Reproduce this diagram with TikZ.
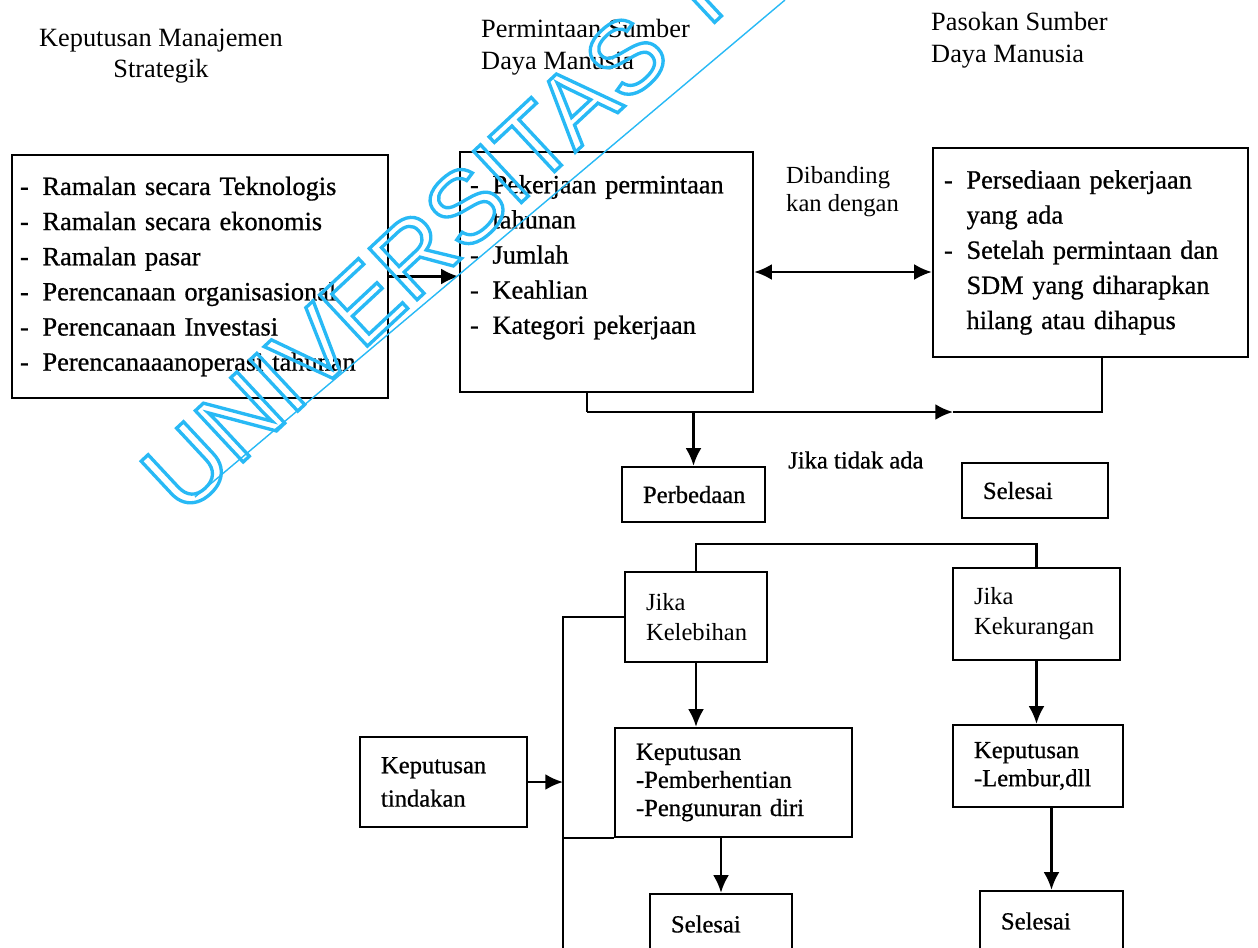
\documentclass[tikz,border=0pt]{standalone}
\usepackage{fontspec}
\setmainfont{Liberation Serif}
\newfontfamily\tebal{Liberation Serif}[FakeBold=0.7]
\newfontfamily\tandaair{Liberation Sans}
\usetikzlibrary{arrows.meta,positioning}
\definecolor{birumuda}{RGB}{40,185,245}
\newcommand{\butir}[1]{\makebox[0.45cm][l]{-}#1}
\newcommand{\sambung}[1]{\hspace*{0.45cm}#1}
\newcommand{\garis}[1]{\special{pdf:literal direct 1 Tr 1.9 w}#1\special{pdf:literal direct 0 Tr}}

\begin{document}
\begin{tikzpicture}[x=0.02cm,y=-0.02cm,>={Latex[length=10pt,width=9pt]},line width=1.4pt,
    judul/.style={font=\fontsize{15}{18}\selectfont,inner sep=0pt},
    kotak/.style={draw,rectangle,align=left,inner ysep=0pt},
    daftar/.style={kotak,font=\tebal\fontsize{15}{20}\selectfont},
    kecil/.style={kotak,font=\tebal\fontsize{14}{17}\selectfont,inner xsep=0.42cm}]
    \useasboundingbox (0,0) rectangle (1258,947);
    \clip (0,0) rectangle (1258,947);
    % judul kolom
    \node[judul,align=center] (judulkiri) at (161,56) {Keputusan Manajemen\\Strategik};
    \node[judul,align=left,anchor=west] (judultengah) at (480,47) {Permintaan Sumber\\Daya Manusia};
    \node[judul,align=left,anchor=west] (judulkanan) at (930,40) {Pasokan Sumber\\Daya Manusia};
    % kotak besar
    \node[daftar,text width=7.2cm,inner xsep=0.16cm,minimum height=4.86cm] (ramalan) at (200,276.5)
        {\butir{Ramalan secara Teknologis}\\\butir{Ramalan secara ekonomis}\\\butir{Ramalan pasar}\\
         \butir{Perencanaan organisasional}\\\butir{Perencanaan Investasi}\\\butir{Perencanaaanoperasi tahunan}};
    \node[daftar,text width=5.46cm,inner xsep=0.2cm,minimum height=4.8cm] (permintaan) at (606.5,272)
        {\butir{Pekerjaan permintaan}\\\sambung{tahunan}\\\butir{Jumlah}\\\butir{Keahlian}\\
         \butir{Kategori pekerjaan}\\ \mbox{}};
    \node[daftar,text width=5.86cm,inner xsep=0.22cm,minimum height=4.18cm] (pasokan) at (1090.5,252.5)
        {\butir{Persediaan pekerjaan}\\\sambung{yang ada}\\\butir{Setelah permintaan dan}\\
         \sambung{SDM yang diharapkan}\\\sambung{hilang atau dihapus}};
    \node[font=\fontsize{14}{16}\selectfont,align=left,anchor=west,inner sep=0pt] (banding) at (785,192) {Dibanding\\kan dengan};
    % perbandingan
    \node[kecil,text width=2.02cm,minimum height=1.1cm] (beda) at (693.5,494.5) {Perbedaan};
    \node[font=\tebal\fontsize{14}{17}\selectfont,anchor=west,inner sep=0pt] (tidakada) at (787,460) {Jika tidak ada};
    \node[kecil,text width=2.08cm,minimum height=1.1cm] (selesai1) at (1035,490.5) {Selesai};
    \node[kecil,text width=2.0cm,minimum height=1.8cm,font=\fontsize{14}{17}\selectfont] (lebih) at (696,617) {Jika\\Kelebihan};
    \node[kecil,text width=2.5cm,minimum height=1.84cm,font=\fontsize{14}{17}\selectfont] (kurang) at (1036.5,614) {Jika\\Kekurangan};
    % keputusan
    \node[kecil,text width=3.9cm,minimum height=2.18cm,font=\tebal\fontsize{14}{16}\selectfont] (putus1) at (733.5,782.5)
        {Keputusan\\-Pemberhentian\\-Pengunuran diri};
    \node[kecil,text width=2.5cm,minimum height=1.8cm,font=\tebal\fontsize{14}{19}\selectfont] (tindakan) at (443.5,782)
        {Keputusan\\tindakan};
    \node[kecil,text width=2.56cm,minimum height=1.64cm,font=\tebal\fontsize{14}{16}\selectfont] (putus2) at (1038,766)
        {Keputusan\\-Lembur,dll};
    \node[kecil,text width=2.0cm,minimum height=1.2cm] (selesai2) at (721,924) {Selesai};
    \node[kecil,text width=2.02cm,minimum height=1.2cm] (selesai3) at (1051.5,921) {Selesai};
    % titik belok
    \coordinate (belok) at (587,412);
    \coordinate (tengah) at (953,412);
    \coordinate (ujung) at (1102,412);
    \coordinate (rel) at (563,960);
    % garis
    \draw[->] (ramalan.east) -- (ramalan.east -| permintaan.west);
    \draw[<->] (permintaan.east) -- (permintaan.east -| pasokan.west);
    \draw (belok |- permintaan.south) -- (belok);
    \draw[->] (belok) -- (tengah);
    \draw (tengah) -- (ujung) -- (ujung |- pasokan.south);
    \draw[->] (belok -| beda.north) -- (beda.north);
    \draw (lebih.north) -- ++(0,-27) -| (kurang.north);
    \draw[->] (lebih.south) -- (lebih.south |- putus1.north);
    \draw[->] (putus1.south -| selesai2.north) -- (selesai2.north);
    \draw[->] (kurang.south) -- (kurang.south |- putus2.north);
    \draw[->] (putus2.south -| selesai3.north) -- (selesai3.north);
    \draw (lebih.west) -| (rel);
    \draw (putus1.south west) -- (putus1.south west -| rel);
    \draw[->] (tindakan.east) -- (tindakan.east -| rel);
    % tanda air
    \node[text=birumuda,font=\tandaair\fontsize{58}{58}\selectfont,rotate=43,inner sep=0pt] (tanda) at (463,209) {\garis{UNIVERSITAS TE}};
    \draw[birumuda,line width=0.8pt] (195,497) -- (785,0);
\end{tikzpicture}
\end{document}
